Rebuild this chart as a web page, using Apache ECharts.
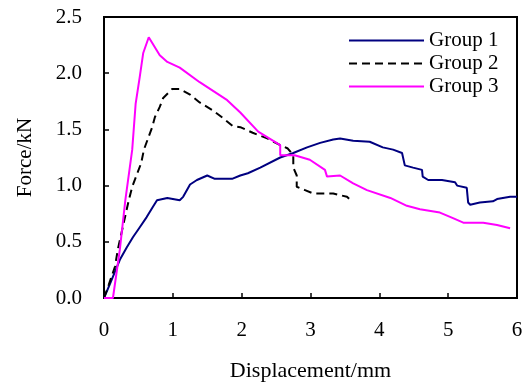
<!DOCTYPE html>
<html>
<head>
<meta charset="utf-8">
<script src="https://cdn.jsdelivr.net/npm/echarts@6/dist/echarts.min.js"></script>
<style>
  html, body { margin: 0; padding: 0; background: #fff; }
  #chart { width: 526px; height: 387px; }
</style>
</head>
<body>
<div id="chart"></div>
<script>
// Force–displacement curves, [displacement mm, force kN]
const group1 = [
  [0, 0], [0.09, 0.13], [0.23, 0.34], [0.33, 0.45], [0.42, 0.54], [0.52, 0.63],
  [0.62, 0.72], [0.70, 0.80], [0.77, 0.87], [0.92, 0.89], [1.10, 0.87], [1.15, 0.90],
  [1.25, 1.01], [1.35, 1.05], [1.50, 1.09], [1.61, 1.06], [1.86, 1.06], [1.98, 1.09],
  [2.09, 1.11], [2.27, 1.16], [2.56, 1.25], [2.75, 1.29], [2.95, 1.34], [3.14, 1.38],
  [3.33, 1.41], [3.43, 1.42], [3.62, 1.40], [3.86, 1.39], [4.05, 1.34], [4.20, 1.32],
  [4.33, 1.29], [4.37, 1.18], [4.49, 1.16], [4.62, 1.14], [4.63, 1.08], [4.71, 1.05],
  [4.91, 1.05], [5.10, 1.03], [5.13, 1.00], [5.27, 0.98], [5.29, 0.85], [5.32, 0.83],
  [5.46, 0.85], [5.65, 0.86], [5.71, 0.88], [5.90, 0.90], [6.00, 0.90]
];
const group2 = [
  [0, 0], [0.07, 0.12], [0.16, 0.28], [0.20, 0.43], [0.28, 0.65], [0.36, 0.87],
  [0.41, 0.99], [0.54, 1.20], [0.58, 1.32], [0.70, 1.52], [0.74, 1.61], [0.81, 1.70],
  [0.86, 1.78], [0.99, 1.86], [1.10, 1.86], [1.25, 1.81], [1.39, 1.74], [1.58, 1.67],
  [1.73, 1.60], [1.87, 1.53], [1.98, 1.52], [2.16, 1.47], [2.37, 1.42], [2.56, 1.36],
  [2.67, 1.33], [2.75, 1.27], [2.75, 1.16], [2.80, 1.09], [2.80, 0.99], [2.92, 0.96],
  [3.04, 0.93], [3.33, 0.93], [3.53, 0.90], [3.60, 0.86]
];
const group3 = [
  [0, 0], [0.13, 0], [0.23, 0.43], [0.31, 0.87], [0.41, 1.32], [0.46, 1.73],
  [0.52, 1.97], [0.57, 2.18], [0.65, 2.32], [0.81, 2.16], [0.92, 2.10], [1.10, 2.05],
  [1.39, 1.92], [1.79, 1.76], [1.98, 1.65], [2.24, 1.48], [2.56, 1.36], [2.56, 1.27],
  [2.77, 1.27], [2.99, 1.23], [3.21, 1.14], [3.24, 1.08], [3.43, 1.09], [3.62, 1.02],
  [3.82, 0.96], [4.16, 0.89], [4.40, 0.82], [4.59, 0.79], [4.88, 0.76], [5.07, 0.71],
  [5.22, 0.67], [5.51, 0.67], [5.71, 0.65], [5.90, 0.62]
];
const seriesNames = ['Group 1', 'Group 2', 'Group 3'];

const FONT = "'Liberation Serif', 'Times New Roman', serif";
const chart = echarts.init(document.getElementById('chart'), null, { renderer: 'canvas' });

const axisCommon = {
  axisLine: { show: true, lineStyle: { color: '#000', width: 2 } },
  axisTick: { show: true, inside: true, length: 5, lineStyle: { color: '#000', width: 1.5 } },
  splitLine: { show: false },
  axisLabel: { color: '#000', fontFamily: FONT, fontSize: 21 },
  nameTextStyle: { color: '#000', fontFamily: FONT, fontSize: 21 },
  nameLocation: 'middle'
};

chart.setOption({
  animation: false,
  backgroundColor: '#fff',
  grid: {
    left: 104, right: 9, top: 17, bottom: 89,
    show: true, borderColor: '#000', borderWidth: 2, containLabel: false
  },
  legend: {
    data: seriesNames,
    orient: 'vertical',
    left: 343, top: 25,
    itemWidth: 75, itemHeight: 14, itemGap: 2,
    itemStyle: { opacity: 0 },
    textStyle: { color: '#000', fontFamily: FONT, fontSize: 21, lineHeight: 21 }
  },
  xAxis: Object.assign({}, axisCommon, {
    type: 'value', min: 0, max: 6, interval: 1,
    name: 'Displacement/mm', nameGap: 62,
    nameTextStyle: { color: '#000', fontFamily: FONT, fontSize: 22 },
    axisLabel: Object.assign({}, axisCommon.axisLabel, { margin: 22 })
  }),
  yAxis: Object.assign({}, axisCommon, {
    type: 'value', min: 0, max: 2.5, interval: 0.5,
    name: 'Force/kN', nameGap: 68,
    axisLabel: Object.assign({}, axisCommon.axisLabel, {
      margin: 22, formatter: v => v.toFixed(1)
    })
  }),
  series: [
    { name: seriesNames[0], type: 'line', data: group1, symbol: 'none',
      lineStyle: { color: '#000080', width: 2 }, itemStyle: { color: '#000080' } },
    { name: seriesNames[1], type: 'line', data: group2, symbol: 'none',
      lineStyle: { color: '#000', width: 2, type: [8, 5] }, itemStyle: { color: '#000' } },
    { name: seriesNames[2], type: 'line', data: group3, symbol: 'none',
      lineStyle: { color: '#ff00ff', width: 2 }, itemStyle: { color: '#ff00ff' } }
  ]
});
</script>
</body>
</html>
